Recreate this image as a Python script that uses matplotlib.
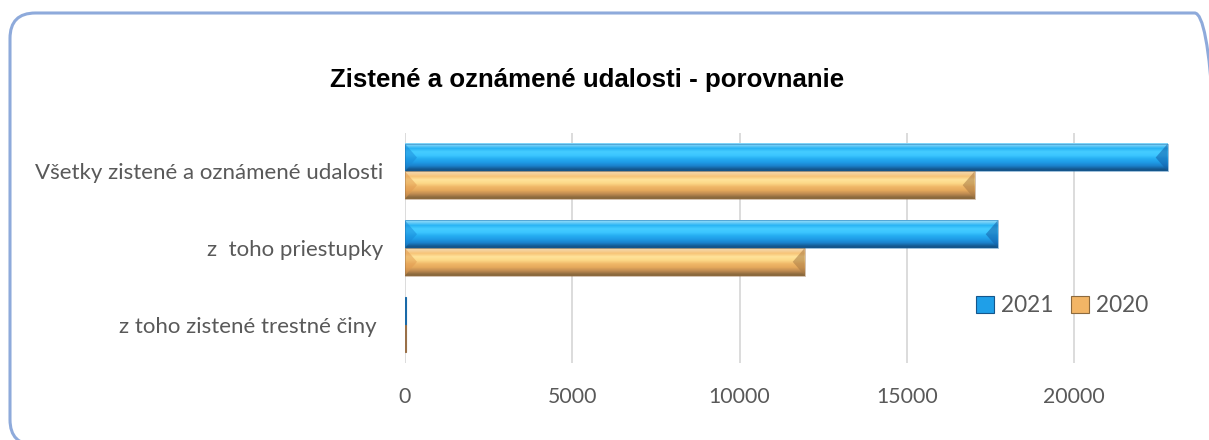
import numpy as np
import matplotlib
matplotlib.use("Agg")
import matplotlib.pyplot as plt
from matplotlib.patches import FancyBboxPatch, Polygon, Patch
from matplotlib.colors import to_rgb

# ---- data ----
categories = ["Všetky zistené a oznámené udalosti", "z  toho priestupky", "z toho zistené trestné činy "]
values_2021 = [22800, 17720, 25]
values_2020 = [17030, 11950, 20]
series_labels = ["2021", "2020"]
xticks = [0, 5000, 10000, 15000, 20000]
title = "Zistené a oznámené udalosti - porovnanie"

W, H = 1209, 440
DPI = 100
fig = plt.figure(figsize=(W / DPI, H / DPI), dpi=DPI)

# rounded chart border
def px(x, y):
    return x / W, 1 - y / H

bx0, by0 = px(10, 445)
bx1, by1 = px(1220, 13)
border = FancyBboxPatch((bx0, by0), bx1 - bx0, by1 - by0,
                        boxstyle="round,pad=0,rounding_size=0.021",
                        transform=fig.transFigure, facecolor="none",
                        edgecolor="#8eaadb", linewidth=2.2, zorder=10,
                        mutation_aspect=W / H)
fig.patches.append(border)

ax_left, ax_top, ax_right, ax_bottom = 405, 133, 1205, 363
ax = fig.add_axes([ax_left / W, 1 - ax_bottom / H, (ax_right - ax_left) / W, (ax_bottom - ax_top) / H])
ax.set_facecolor("none")

xmax = (ax_right - ax_left) / (1074 - 405) * 20000
ax.set_xlim(0, xmax)
ax.set_ylim(2.5, -0.5)

y = np.arange(len(categories))
h = 0.36
bars21 = ax.barh(y - h / 2, values_2021, height=h, color="#1f9fe8", zorder=2, linewidth=0)
bars20 = ax.barh(y + h / 2, values_2020, height=h, color="#f2b566", zorder=2, linewidth=0)

blue_grad = ["#14568c", "#1b82cc", "#1f9be6", "#26aef2", "#3cc6ff", "#45ccff", "#2ab4f5", "#7fd4f8"]
orange_grad = ["#8c6a3e", "#c08c52", "#e5a95c", "#f0b868", "#fcd887", "#ffe39a", "#f7c478", "#f4d4a4"]

def grad_img(cols):
    arr = np.array([to_rgb(c) for c in cols])
    return arr[:, None, :]

units_per_px = xmax / (ax_right - ax_left)
bevel_w = 12 * units_per_px

def decorate(bars, cols, left_c, right_c, edge):
    img = grad_img(cols)
    for r in bars:
        x0, y0, w, hh = r.get_x(), r.get_y(), r.get_width(), r.get_height()
        if w <= 0:
            continue
        if w < 3 * bevel_w:
            r.set_color(edge)
            r.set_edgecolor(edge)
            r.set_linewidth(0.8)
            continue
        ax.imshow(img, extent=[x0, x0 + w, y0 + hh, y0], aspect="auto",
                  interpolation="bilinear", zorder=3, origin="lower")
        yc = y0 + hh / 2
        ax.add_patch(Polygon([(x0, y0), (x0 + bevel_w, yc), (x0, y0 + hh)],
                             closed=True, facecolor=left_c, alpha=0.5, zorder=4, linewidth=0))
        ax.add_patch(Polygon([(x0 + w, y0), (x0 + w - bevel_w, yc), (x0 + w, y0 + hh)],
                             closed=True, facecolor=right_c, alpha=0.55, zorder=4, linewidth=0))
        ax.add_patch(plt.Rectangle((x0, y0), w, hh, fill=False, edgecolor=edge,
                                   linewidth=0.6, alpha=0.5, zorder=5))

decorate(bars21, blue_grad, "#1a8ad8", "#1460a8", "#1a6aa8")
decorate(bars20, orange_grad, "#e09a50", "#a87a45", "#9a7048")

ax.set_xticks(xticks)
ax.set_xticklabels([str(t) for t in xticks])
ax.set_yticks(y)
ax.set_yticklabels(categories)
ax.grid(axis="x", color="#d9d9d9", linewidth=1.3, zorder=0)
ax.set_axisbelow(True)
for s in ax.spines.values():
    s.set_visible(False)
ax.tick_params(axis="both", length=0, labelcolor="#595959")
ax.tick_params(axis="x", pad=17, labelsize=15.3)
ax.tick_params(axis="y", pad=16, labelsize=16)
for lab in ax.get_xticklabels() + ax.get_yticklabels():
    lab.set_family(["Lato", "DejaVu Sans"])

fig.text(587 / W, 1 - 80 / H, title, ha="center", va="center",
         fontsize=18.6, fontweight="bold", family=["Liberation Sans", "DejaVu Sans"], color="black")

handles = [Patch(facecolor="#1f9fe8", edgecolor="#14568c", linewidth=0.8),
           Patch(facecolor="#f2b566", edgecolor="#8c6a3e", linewidth=0.8)]
leg = fig.legend(handles, series_labels, loc="center left",
                 bbox_to_anchor=(956 / W, 1 - 306 / H), ncol=2, frameon=False,
                 handlelength=0.8, handleheight=0.8, handletextpad=0.3, columnspacing=0.75,
                 prop={"family": ["Lato", "DejaVu Sans"], "size": 16.3})
for t in leg.get_texts():
    t.set_color("#595959")

fig.savefig("out.png", dpi=DPI)
